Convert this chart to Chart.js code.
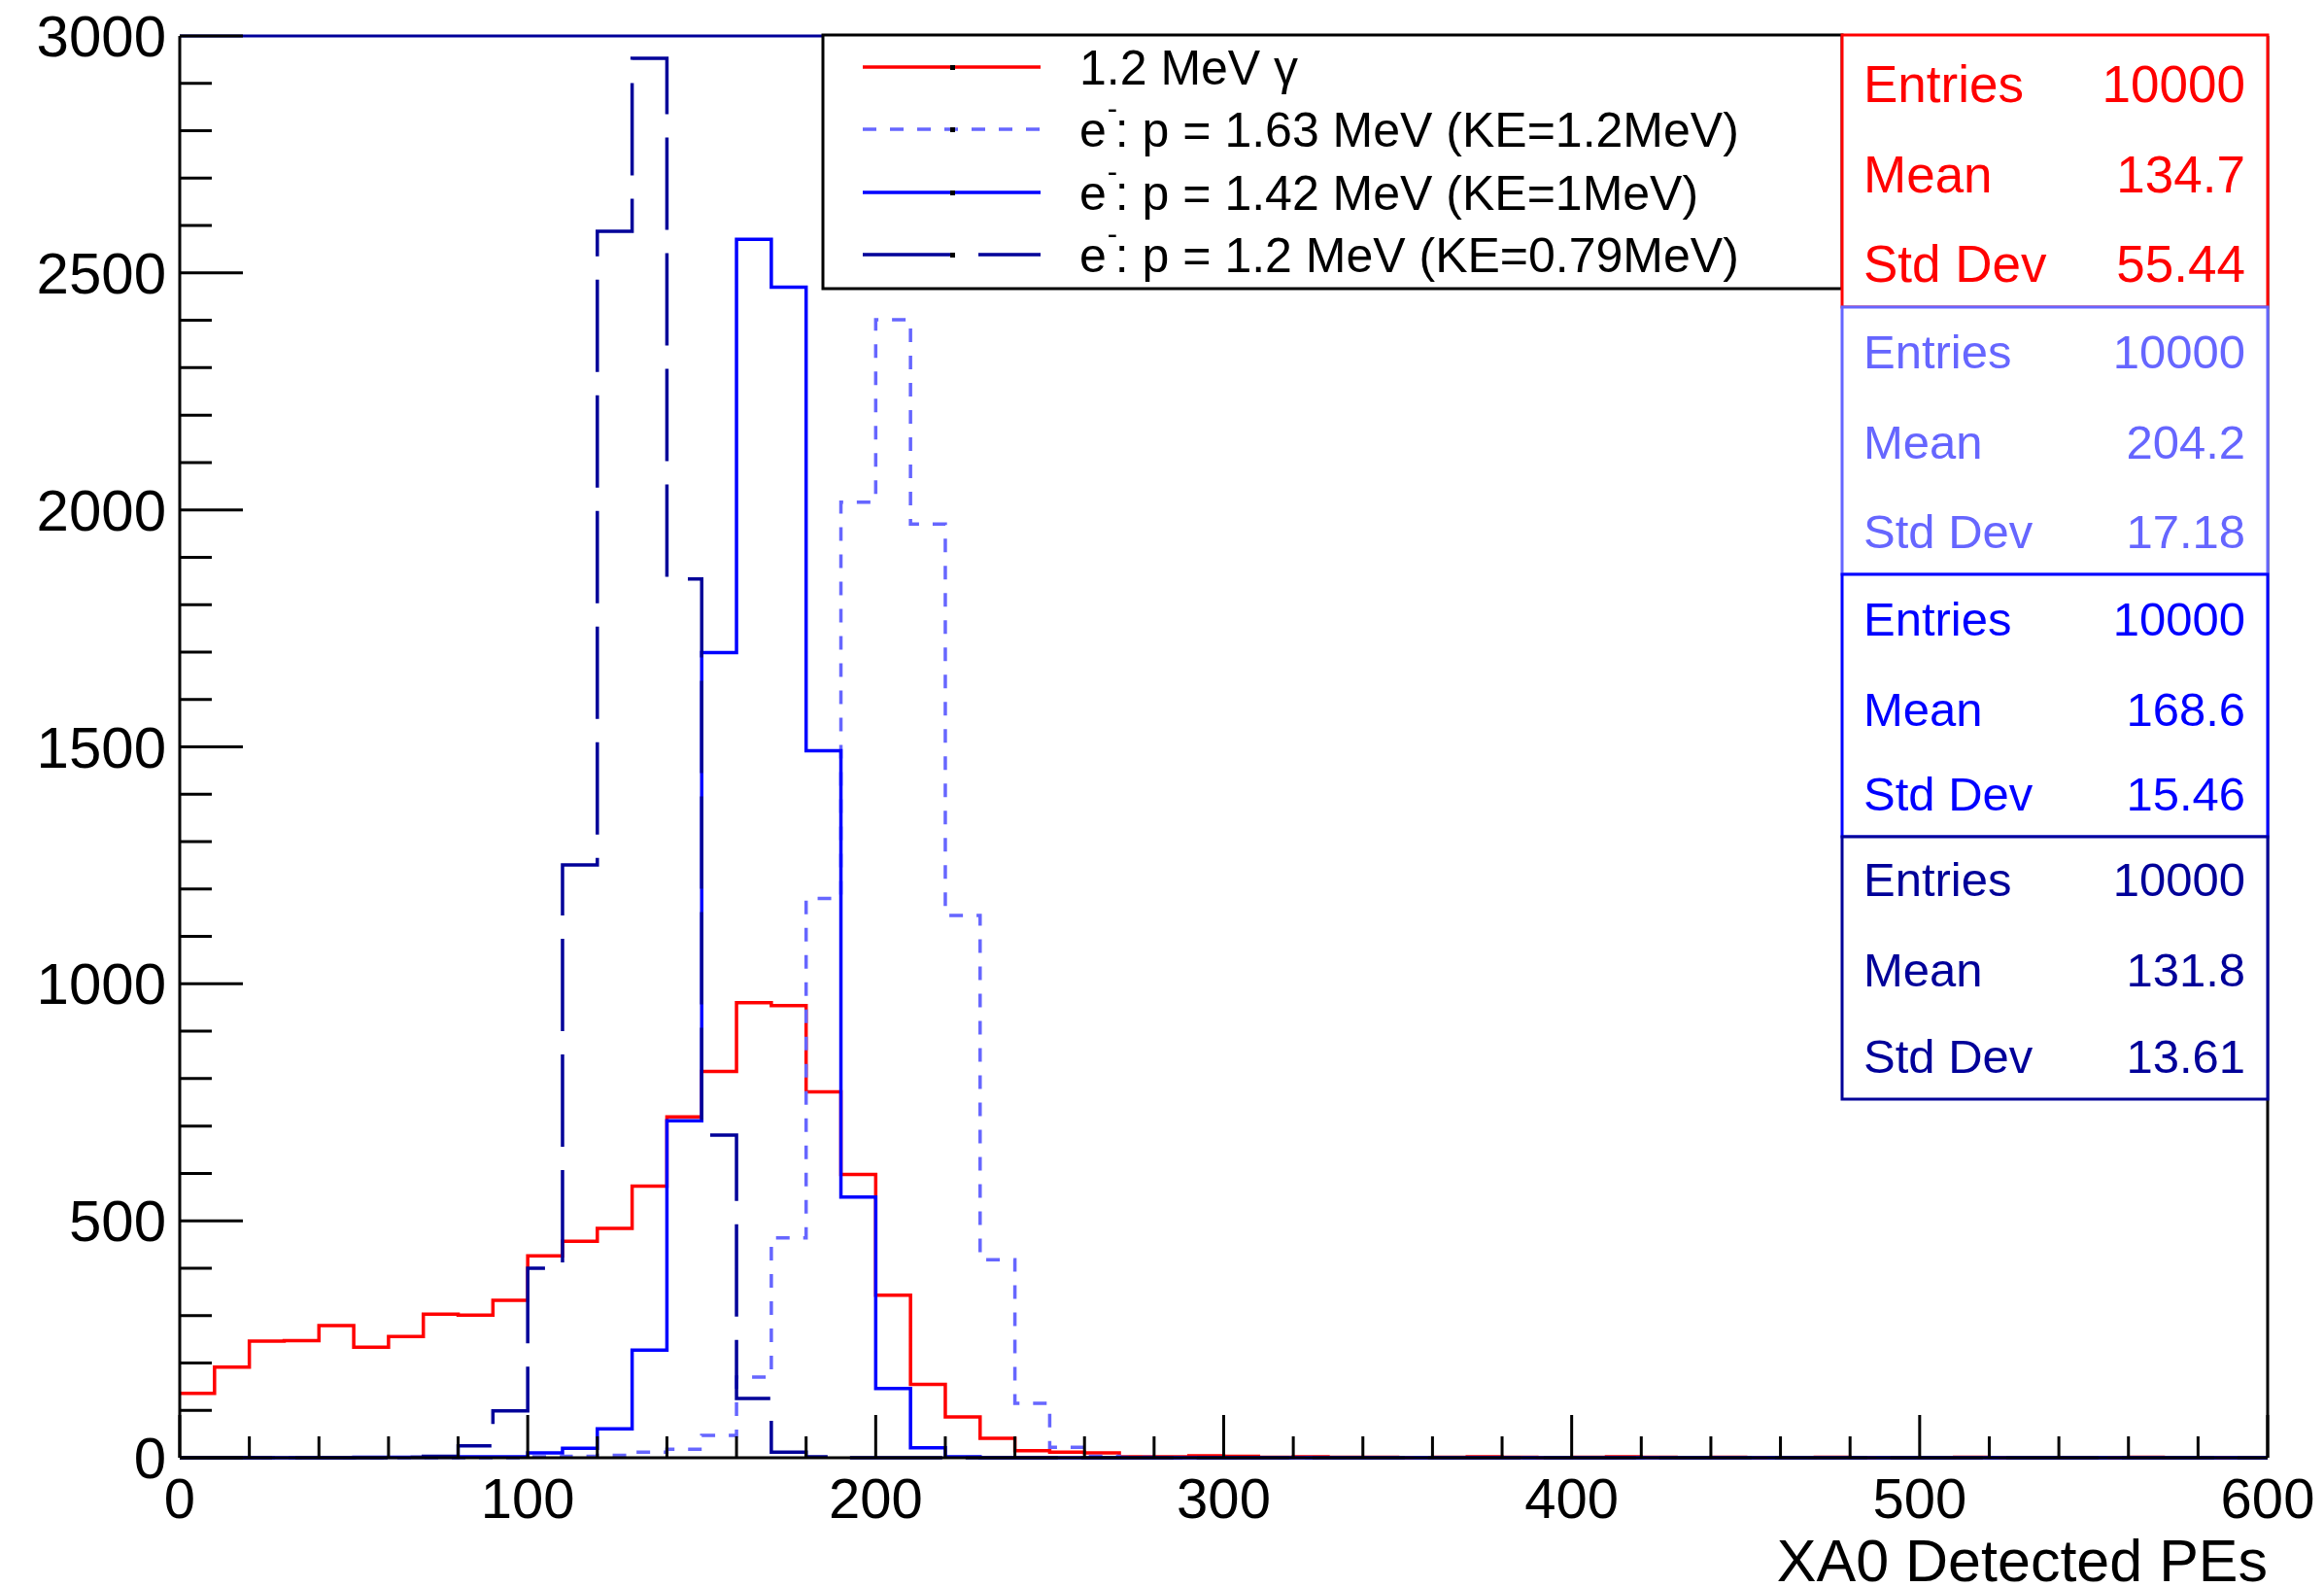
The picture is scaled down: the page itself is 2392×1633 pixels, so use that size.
<!DOCTYPE html>
<html>
<head>
<meta charset="utf-8">
<script src="https://cdn.jsdelivr.net/npm/chart.js@4.4.1/dist/chart.umd.min.js"></script>
<style>
  html, body { margin: 0; padding: 0; background: #fff; }
  #wrap { width: 2392px; height: 1633px; position: relative; }
</style>
</head>
<body>
<div id="wrap"><canvas id="histCanvas"></canvas></div>
<script>
// histogram binning (10 PE per bin, 0..600)
const BIN_WIDTH = 10;
const X_MIN = 0, X_MAX = 600;
const Y_MIN = 0, Y_MAX = 3000;

const xTickLabels = ["0", "100", "200", "300", "400", "500", "600"];
const yTickLabels = ["0", "500", "1000", "1500", "2000", "2500", "3000"];
const xTitle = "XA0 Detected PEs";

const seriesNames = [
  "1.2 MeV \u03b3",
  ": p = 1.63 MeV (KE=1.2MeV)",
  ": p = 1.42 MeV (KE=1MeV)",
  ": p = 1.2 MeV (KE=0.79MeV)",
];
const seriesColors = ["#ff0000", "#6666ff", "#0000ff", "#000099"];

// counts per bin
const gammaCounts = [
  136, 191, 246, 247, 279, 233, 256, 303, 301, 332,
  426, 457, 484, 573, 719, 815, 960, 954, 772, 598,
  343, 155, 86, 41, 15, 12, 10, 2, 2, 4,
  3, 1, 2, 1, 1, 0, 1, 2, 1, 0,
  1, 2, 1, 0, 1, 0, 0, 1, 0, 0,
  0, 1, 0, 0, 0, 0, 1, 0, 0, 0,
];
const elec163Counts = [
  0, 0, 0, 0, 0, 0, 0, 0, 0, 0,
  2, 3, 5, 12, 18, 47, 170, 464, 1180, 2016,
  2401, 1970, 1144, 418, 115, 22, 3, 1, 0, 0,
  0, 0, 0, 0, 0, 0, 0, 0, 0, 0,
  0, 0, 0, 0, 0, 0, 0, 0, 0, 0,
  0, 0, 0, 0, 0, 0, 0, 0, 0, 0,
];
const elec142Counts = [
  0, 0, 0, 0, 0, 1, 1, 1, 2, 2,
  10, 20, 61, 227, 711, 1699, 2571, 2470, 1492, 550,
  146, 21, 2, 0, 0, 0, 0, 0, 0, 0,
  0, 0, 0, 0, 0, 0, 0, 0, 0, 0,
  0, 0, 0, 0, 0, 0, 0, 0, 0, 0,
  0, 0, 0, 0, 0, 0, 0, 0, 0, 0,
];
const elec120Counts = [
  0, 0, 0, 0, 0, 0, 1, 3, 25, 99,
  400, 1251, 2588, 2953, 1854, 681, 125, 12, 2, 0,
  0, 0, 0, 0, 0, 0, 0, 0, 0, 0,
  0, 0, 0, 0, 0, 0, 0, 0, 0, 0,
  0, 0, 0, 0, 0, 0, 0, 0, 0, 0,
  0, 0, 0, 0, 0, 0, 0, 0, 0, 0,
];

// stats box contents
const statEntries = ["10000", "10000", "10000", "10000"];
const statMeans = ["134.7", "204.2", "168.6", "131.8"];
const statStdDevs = ["55.44", "17.18", "15.46", "13.61"];

function toSteps(counts) {
  const pts = counts.map((c, i) => ({ x: X_MIN + i * BIN_WIDTH, y: c }));
  pts.push({ x: X_MAX, y: counts[counts.length - 1] });
  return pts;
}

const dashes = [[], [14, 14], [], [95, 24]];
const allCounts = [gammaCounts, elec163Counts, elec142Counts, elec120Counts];

const FONT = '"Liberation Sans", Arial, Helvetica, sans-serif';

const rootDecor = {
  id: "rootDecor",
  afterDatasetsDraw(chart) {
    const { ctx, chartArea: a, scales } = chart;
    const xs = scales.x, ys = scales.y;
    ctx.save();

    // frame
    ctx.lineWidth = 3;
    ctx.strokeStyle = "#000099";
    ctx.beginPath();
    ctx.moveTo(a.left, a.top);
    ctx.lineTo(a.right, a.top);
    ctx.stroke();
    ctx.strokeStyle = "#000";
    ctx.beginPath();
    ctx.moveTo(a.right, a.top);
    ctx.lineTo(a.right, a.bottom);
    ctx.moveTo(a.left, a.top);
    ctx.lineTo(a.left, a.bottom);
    ctx.stroke();
    ctx.beginPath();
    ctx.moveTo(a.left, a.bottom);
    ctx.lineTo(a.right, a.bottom);
    ctx.stroke();

    // ticks
    ctx.lineWidth = 3;
    ctx.beginPath();
    for (let v = X_MIN; v <= X_MAX; v += 20) {
      const px = xs.getPixelForValue(v);
      const len = v % 100 === 0 ? 44 : 22;
      ctx.moveTo(px, a.bottom);
      ctx.lineTo(px, a.bottom - len);
    }
    for (let v = Y_MIN; v <= Y_MAX; v += 100) {
      const py = ys.getPixelForValue(v);
      const len = v % 500 === 0 ? 65 : 33;
      ctx.moveTo(a.left, py);
      ctx.lineTo(a.left + len, py);
    }
    ctx.stroke();

    // tick labels
    ctx.fillStyle = "#000";
    ctx.font = "58px " + FONT;
    ctx.textAlign = "center";
    ctx.textBaseline = "alphabetic";
    xTickLabels.forEach((t) => {
      ctx.fillText(t, xs.getPixelForValue(Number(t)), 1562);
    });
    ctx.textAlign = "right";
    ctx.font = "60px " + FONT;
    yTickLabels.forEach((t) => {
      ctx.fillText(t, 171, ys.getPixelForValue(Number(t)) + 21);
    });
    ctx.font = "61px " + FONT;
    ctx.fillText(xTitle, a.right, 1627);

    // legend
    const lg = { l: 847, t: 36, r: 1896, b: 297 };
    ctx.fillStyle = "#fff";
    ctx.fillRect(lg.l, lg.t, lg.r - lg.l, lg.b - lg.t);
    ctx.strokeStyle = "#000";
    ctx.lineWidth = 3;
    ctx.strokeRect(lg.l, lg.t, lg.r - lg.l, lg.b - lg.t);
    const rowY = [69, 133, 198, 262];
    seriesNames.forEach((name, i) => {
      const y = rowY[i];
      ctx.strokeStyle = seriesColors[i];
      ctx.lineWidth = 3.5;
      ctx.setLineDash(dashes[i]);
      ctx.beginPath();
      ctx.moveTo(888, y);
      ctx.lineTo(1071, y);
      ctx.stroke();
      ctx.setLineDash([]);
      ctx.fillStyle = "#000";
      ctx.fillRect(978, y - 2, 5, 5);
      ctx.font = "50px " + FONT;
      ctx.textAlign = "left";
      ctx.textBaseline = "alphabetic";
      const base = y + 18;
      if (i === 0) {
        ctx.fillText(name, 1111, base);
      } else {
        ctx.fillText("e", 1111, base);
        const ew = ctx.measureText("e").width;
        ctx.font = "31px " + FONT;
        ctx.fillText("-", 1111 + ew + 1, base - 29);
        ctx.font = "50px " + FONT;
        ctx.fillText(name, 1111 + ew + 9, base);
      }
    });

    // stats boxes
    const boxTops = [36, 316, 591, 861, 1131];
    const rowCenters = [[86, 179, 271], [361, 454, 546], [636, 729, 816], [904, 997, 1086]];
    const fontSizes = [53, 49, 49, 49];
    for (let i = 0; i < 4; i++) {
      const t = boxTops[i], b = boxTops[i + 1];
      ctx.fillStyle = "#fff";
      ctx.fillRect(1896, t, 2334 - 1896, b - t);
      ctx.strokeStyle = seriesColors[i];
      ctx.lineWidth = 3;
      ctx.strokeRect(1896, t, 2334 - 1896, b - t);
      ctx.fillStyle = seriesColors[i];
      const fs = fontSizes[i];
      ctx.font = fs + "px " + FONT;
      const labels = ["Entries", "Mean", "Std Dev"];
      const vals = [statEntries[i], statMeans[i], statStdDevs[i]];
      for (let r = 0; r < 3; r++) {
        const base = rowCenters[i][r] + fs * 0.36;
        ctx.textAlign = "left";
        ctx.fillText(labels[r], 1918, base);
        ctx.textAlign = "right";
        ctx.fillText(vals[r], 2311, base);
      }
    }
    ctx.restore();
  },
};

const chartContext = document.getElementById("histCanvas");
let chart = new Chart(chartContext, {
  type: "line",
  data: {
    datasets: allCounts.map((counts, i) => ({
      data: toSteps(counts),
      label: seriesNames[i],
      borderColor: seriesColors[i],
      borderWidth: 3.5,
      borderDash: dashes[i],
      stepped: true,
      fill: false,
      pointRadius: 0,
      order: 4 - i,
      clip: { left: 2, top: 0, right: 2, bottom: 3 },
    })),
  },
  options: {
    animation: false,
    responsive: true,
    maintainAspectRatio: false,
    devicePixelRatio: 1,
    layout: { padding: { left: 185, top: 37, right: 58, bottom: 133 } },
    scales: {
      x: { type: "linear", min: X_MIN, max: X_MAX, display: false },
      y: { type: "linear", min: Y_MIN, max: Y_MAX, display: false },
    },
    plugins: {
      legend: { display: false },
      tooltip: { enabled: false },
    },
  },
  plugins: [rootDecor],
});
</script>
</body>
</html>
